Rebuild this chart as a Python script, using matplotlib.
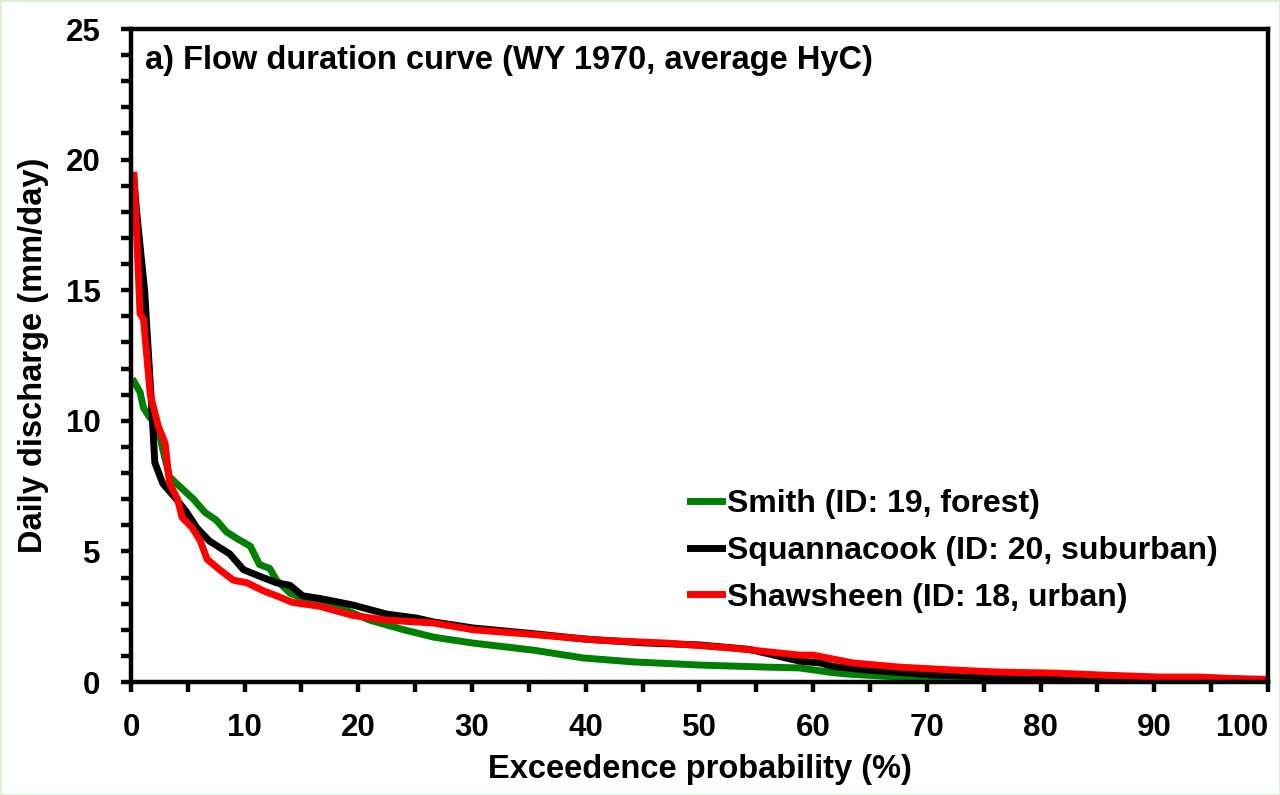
import matplotlib
matplotlib.use('Agg')
from matplotlib import pyplot as plt
from matplotlib.ticker import MultipleLocator

plt.rcParams['font.family'] = ['Liberation Sans', 'DejaVu Sans']
plt.rcParams['font.weight'] = 'bold'

# exceedance probability (%) and daily discharge (mm/day)
smith_x = [0.27, 0.8, 1.1, 1.7, 2.0, 2.6, 2.8, 3.4, 4.5, 5.5, 6.5, 7.5, 8.4, 9.3,
           10.5, 11.3, 12.2, 12.8, 14.0, 15.1, 18.1, 21.0, 24.0, 26.6, 30.1, 35.4,
           39.8, 44.2, 50.0, 55.9, 58.8, 61.7, 63.2, 67.6, 76.4, 85.2, 98.0, 100.0]
smith_y = [11.5, 11.1, 10.5, 10.1, 10.0, 9.3, 8.9, 7.85, 7.4, 7.0, 6.5, 6.2, 5.75, 5.5,
           5.2, 4.5, 4.35, 3.9, 3.4, 3.2, 2.9, 2.37, 2.0, 1.72, 1.49, 1.22,
           0.92, 0.77, 0.65, 0.57, 0.54, 0.36, 0.3, 0.19, 0.11, 0.04, 0.0, 0.0]

squan_x = [0.27, 0.5, 1.2, 1.8, 2.1, 2.8, 4.0, 4.9, 5.8, 6.9, 8.7, 9.9, 11.6, 12.8,
           14.0, 15.1, 16.6, 19.5, 22.5, 25.1, 26.6, 30.1, 35.4, 39.8, 45.0, 50.0,
           54.4, 58.8, 60.6, 61.7, 64.7, 70.5, 76.4, 85.2, 94.0, 100.0]
squan_y = [19.2, 18.0, 15.0, 10.7, 8.4, 7.6, 7.0, 6.5, 5.9, 5.4, 4.9, 4.3, 4.0, 3.8,
           3.7, 3.3, 3.2, 2.95, 2.6, 2.45, 2.3, 2.07, 1.85, 1.65, 1.5, 1.42,
           1.25, 0.8, 0.73, 0.6, 0.46, 0.27, 0.19, 0.15, 0.13, 0.1]

shaw_x = [0.27, 0.5, 0.8, 1.1, 1.7, 2.0, 2.4, 3.0, 3.4, 4.1, 4.5, 5.4, 6.1, 6.7, 7.8,
          9.0, 10.2, 11.6, 13.1, 14.2, 16.6, 19.5, 22.5, 25.1, 26.6, 30.1, 35.4, 41.2,
          47.1, 52.9, 58.8, 60.0, 63.5, 67.6, 72.3, 76.4, 81.4, 85.2, 90.5, 94.0, 98.2, 100.0]
shaw_y = [19.4, 17.2, 14.1, 13.9, 11.0, 10.5, 9.8, 9.15, 7.6, 7.0, 6.3, 5.9, 5.4, 4.7, 4.3,
          3.9, 3.8, 3.5, 3.25, 3.05, 2.9, 2.55, 2.37, 2.3, 2.26, 2.0, 1.82, 1.6,
          1.49, 1.3, 1.03, 1.03, 0.73, 0.57, 0.46, 0.38, 0.34, 0.27, 0.19, 0.19, 0.11, 0.1]

x_ticks = [0, 10, 20, 30, 40, 50, 60, 70, 80, 90, 100]
x_ticklabels = ['0', '10', '20', '30', '40', '50', '60', '70', '80', '90', '100']

fig = plt.figure(figsize=(12.8, 7.95), dpi=100)
fig.patch.set_edgecolor('#dcefd4')
fig.patch.set_linewidth(2)
ax = fig.add_axes([0.1023, 0.1421, 0.8883, 0.8214])

lw = 5
ax.plot(smith_x, smith_y, color='#008000', lw=lw, label='Smith (ID: 19, forest)')
ax.plot(squan_x, squan_y, color='black', lw=lw, label='Squannacook (ID: 20, suburban)')
ax.plot(shaw_x, shaw_y, color='#ff0000', lw=lw, label='Shawsheen (ID: 18, urban)')

ax.set_xlim(0, 100)
ax.set_ylim(0, 25)
ax.set_xticks(x_ticks)
ax.set_xticklabels(x_ticklabels)
ax.xaxis.set_minor_locator(MultipleLocator(5))
ax.yaxis.set_major_locator(MultipleLocator(5))
ax.yaxis.set_minor_locator(MultipleLocator(1))
for s in ax.spines.values():
    s.set_linewidth(3.2)
ax.tick_params(which='both', direction='out', width=3.2, length=7, labelsize=22.5, pad=15)

# last x label sits left of its tick so it stays inside the figure
for lab in ax.get_xticklabels():
    if lab.get_text() == '100':
        lab.set_horizontalalignment('right')
        lab.set_x(100.4)

ax.set_xlabel('Exceedence probability (%)', fontsize=23.5, fontweight='bold', labelpad=8)
ax.set_ylabel('Daily discharge (mm/day)', fontsize=23.5, fontweight='bold', labelpad=12)
ax.text(0.012, 0.975, 'a) Flow duration curve (WY 1970, average HyC)', transform=ax.transAxes,
        fontsize=23.5, fontweight='bold', va='top', ha='left')

ax.legend(loc='upper left', bbox_to_anchor=(0.4916, 0.295), frameon=False, fontsize=23,
          handlelength=1.0, handletextpad=0.15, labelspacing=0.52, borderpad=0, borderaxespad=0)

fig.savefig('out.png', dpi=100)
